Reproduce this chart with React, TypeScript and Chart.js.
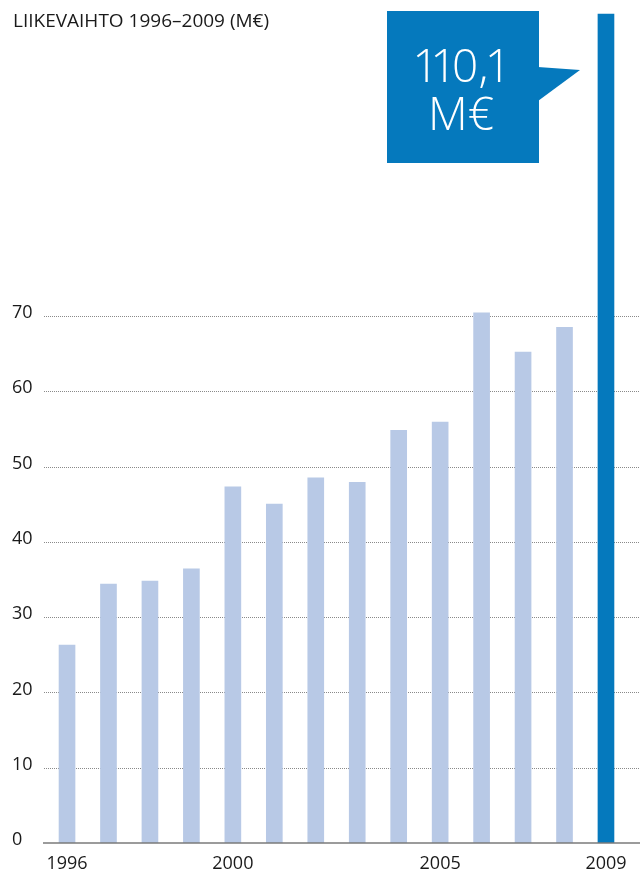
import React, { useEffect, useRef } from 'react';
import { Chart, registerables } from 'chart.js';

Chart.register(...registerables);

const years = ['1996', '1997', '1998', '1999', '2000', '2001', '2002', '2003', '2004', '2005', '2006', '2007', '2008', '2009'];
const revenue = [26.3, 34.4, 34.8, 36.4, 47.3, 45.0, 48.5, 47.9, 54.8, 55.9, 70.4, 65.2, 68.5, 110.1];
const xTickLabels = ['1996', '2000', '2005', '2009'];
const yTicks = [0, 10, 20, 30, 40, 50, 60, 70];
const highlightYear = '2009';
const titleText = 'LIIKEVAIHTO 1996–2009 (M€)';
const calloutLines = ['110,1', 'M€'];

const LIGHT = '#B8C9E6';
const DARK = '#0579BD';
const FONT = "'Open Sans', 'Noto Sans', sans-serif";

export default function App() {
  const canvasRef = useRef<HTMLCanvasElement | null>(null);

  useEffect(() => {
    const canvas = canvasRef.current;
    if (!canvas) return;

    const guides = {
      id: 'guides',
      beforeDatasetsDraw(chart: any) {
        const ctx = chart.ctx;
        const y = chart.scales.y;
        ctx.save();
        ctx.strokeStyle = '#8a8a8a';
        ctx.lineWidth = 1;
        ctx.setLineDash([1, 1]);
        yTicks.forEach((v) => {
          if (v === 0) return;
          const py = Math.round(y.getPixelForValue(v)) + 0.5;
          ctx.beginPath();
          ctx.moveTo(44, py);
          ctx.lineTo(640, py);
          ctx.stroke();
        });
        ctx.restore();
      },
      afterDatasetsDraw(chart: any) {
        const ctx = chart.ctx;
        const y = chart.scales.y;
        const py = y.getPixelForValue(0);
        ctx.save();
        ctx.strokeStyle = '#7a7a7a';
        ctx.lineWidth = 1.5;
        ctx.beginPath();
        ctx.moveTo(43, py);
        ctx.lineTo(640, py);
        ctx.stroke();
        ctx.restore();
      },
    };

    const chart = new Chart(canvas, {
      type: 'bar',
      data: {
        labels: years,
        datasets: [
          {
            data: revenue,
            backgroundColor: years.map((yr) => (yr === highlightYear ? DARK : LIGHT)),
            barThickness: 16,
            borderWidth: 0,
          },
        ],
      },
      options: {
        animation: false,
        responsive: false,
        devicePixelRatio: 1,
        layout: { padding: { left: 12, right: 13.3, top: 11, bottom: 0 } },
        plugins: { legend: { display: false }, tooltip: { enabled: false } },
        scales: {
          x: {
            type: 'category',
            offset: true,
            grid: { display: false, drawTicks: false },
            border: { display: false },
            ticks: {
              autoSkip: false,
              maxRotation: 0,
              padding: 10,
              color: '#1a1a1a',
              font: { family: FONT, size: 18 },
              callback: (_v: any, i: number) => (xTickLabels.includes(years[i]) ? years[i] : ''),
            },
            afterFit: (s: any) => {
              s.height = 28;
            },
          },
          y: {
            type: 'linear',
            min: 0,
            max: 110.5,
            grid: { display: false, drawTicks: false },
            border: { display: false },
            afterBuildTicks: (s: any) => {
              s.ticks = yTicks.map((v) => ({ value: v }));
            },
            ticks: {
              crossAlign: 'far',
              padding: 0,
              labelOffset: -3,
              color: '#1a1a1a',
              font: { family: FONT, size: 18 },
            },
            afterFit: (s: any) => {
              s.width = 34.3;
            },
          },
        },
      },
      plugins: [guides],
    } as any);

    return () => chart.destroy();
  }, []);

  return (
    <div style={{ position: 'absolute', left: 0, top: 0, width: 640, height: 871, background: '#fff', overflow: 'hidden' }}>
      <canvas ref={canvasRef} width={640} height={871} style={{ position: 'absolute', left: 0, top: 0 }} />
      <div
        style={{
          position: 'absolute',
          left: 13,
          top: 11,
          fontFamily: FONT,
          fontSize: 19,
          lineHeight: '19px',
          color: '#1a1a1a',
          whiteSpace: 'nowrap',
        }}
      >
        {titleText}
      </div>
      <div
        style={{
          position: 'absolute',
          left: 387,
          top: 11,
          width: 152,
          height: 152,
          background: DARK,
        }}
      />
      <div
        style={{
          position: 'absolute',
          left: 538,
          top: 67,
          width: 42,
          height: 34,
          background: DARK,
          clipPath: 'polygon(0 0, 100% 9%, 0 100%)',
        }}
      />
      <div
        style={{
          position: 'absolute',
          left: 385,
          top: 40,
          width: 152,
          textAlign: 'center',
          color: '#fff',
          fontFamily: FONT,
          fontWeight: 300,
          fontSize: 46,
          lineHeight: '48px',
          fontVariantNumeric: 'proportional-nums',
          whiteSpace: 'nowrap',
        }}
      >
        {calloutLines.map((l) => (
          <div key={l}>{l}</div>
        ))}
      </div>
    </div>
  );
}
